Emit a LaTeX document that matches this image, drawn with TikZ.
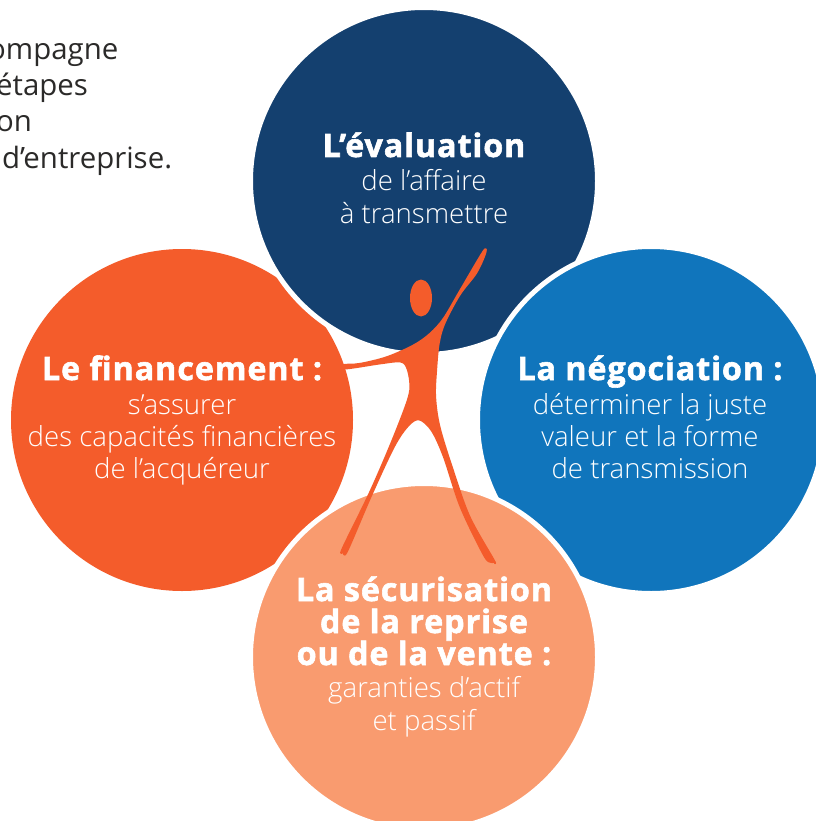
\documentclass[tikz,border=0pt]{standalone}
\usepackage{fontspec}
\setmainfont{Open Sans}
\newfontfamily\headfont[LetterSpace=3,FakeBold=1.8]{Open Sans Bold}
\newfontfamily\bodyfont{Open Sans Light}
\definecolor{navy}{HTML}{14406F}
\definecolor{azur}{HTML}{1075BC}
\definecolor{orangeA}{HTML}{F45C2B}
\definecolor{peach}{HTML}{F99B6F}
\definecolor{ink}{HTML}{2B2A29}
\tikzset{
  disc/.style={circle,minimum size=342pt,inner sep=0pt,fill=#1},
  ringed/.style={draw=white,line width=5pt,minimum size=347pt},
  head/.style={anchor=base,inner sep=0pt,text=white,font=\headfont\fontsize{32.2}{34}\selectfont},
  body/.style={anchor=base,inner sep=0pt,text=white,font=\bodyfont\fontsize{27.6}{32}\selectfont},
  intro/.style={anchor=base west,inner sep=0pt,text=ink,font=\fontsize{29.4}{36}\selectfont},
}
\begin{document}
\begin{tikzpicture}[x=1pt,y=-1pt]
\useasboundingbox (0,0) rectangle (815,821);
\fill[white] (0,0) rectangle (815,821);
\node[intro] (i1) at (-12,60) {ompagne};
\node[intro] (i2) at (-4,96) {étapes};
\node[intro] (i3) at (-4,132) {on};
\node[intro] (i4) at (2,169) {d’entreprise.};
\node[disc=orangeA] (left) at (182,420) {};
\node[disc=navy,ringed] (top) at (424,181) {};
\node[disc=azur,ringed] (right) at (651,420) {};
\node[disc=peach,ringed] (bottom) at (424,657) {};
% figure
\filldraw[orangeA,line width=1.8pt,line join=round] plot[smooth cycle,tension=0.55] coordinates {
(483.3,251.5)(485,254)(476.2,273)(459.5,295)(444.5,323.3)(438.8,343.3)(436.2,370)(435.2,396.7)(439.5,426.7)(452.8,470)(469.5,516.7)(493.7,560)(493.5,561.5)(491,562)(483.8,555)(460.5,506.7)(443.8,456.7)(431.7,430.5)(419.3,419.5)(408.3,425.5)(393.8,447)(370.5,497)(347.2,551)(343.5,551.5)(342.7,548.3)(369.5,493.3)(391.2,443.3)(407.8,400)(410.2,383.3)(406.8,367.2)(400,361.5)(380,363.5)(346,368.5)(343.7,365)(360,363.8)(386.7,357.2)(413.3,345.5)(430,333.8)(443.8,318.3)(460.5,290)};
\fill[orangeA] (421,298) ellipse [x radius=11,y radius=18.5];
\node[head] (t1) at (424,157) {L’évaluation};
\node[body] (t2) at (424,190) {de l’affaire};
\node[body] (t3) at (424,223) {à transmettre};
\node[head] (l1) at (182,380) {Le financement :};
\node[body] (l2) at (182,414) {s’assurer};
\node[body] (l3) at (182,446) {des capacités financières};
\node[body] (l4) at (182,478) {de l’acquéreur};
\node[head] (r1) at (650,380) {La négociation :};
\node[body] (r2) at (650,414) {déterminer la juste};
\node[body] (r3) at (650,446) {valeur et la forme};
\node[body] (r4) at (650,478) {de transmission};
\node[head] (b1) at (424,601) {La sécurisation};
\node[head] (b2) at (424,633) {de la reprise};
\node[head] (b3) at (424,665) {ou de la vente :};
\node[body] (b4) at (424,697) {garanties d’actif};
\node[body] (b5) at (424,730) {et passif};
\end{tikzpicture}
\end{document}
